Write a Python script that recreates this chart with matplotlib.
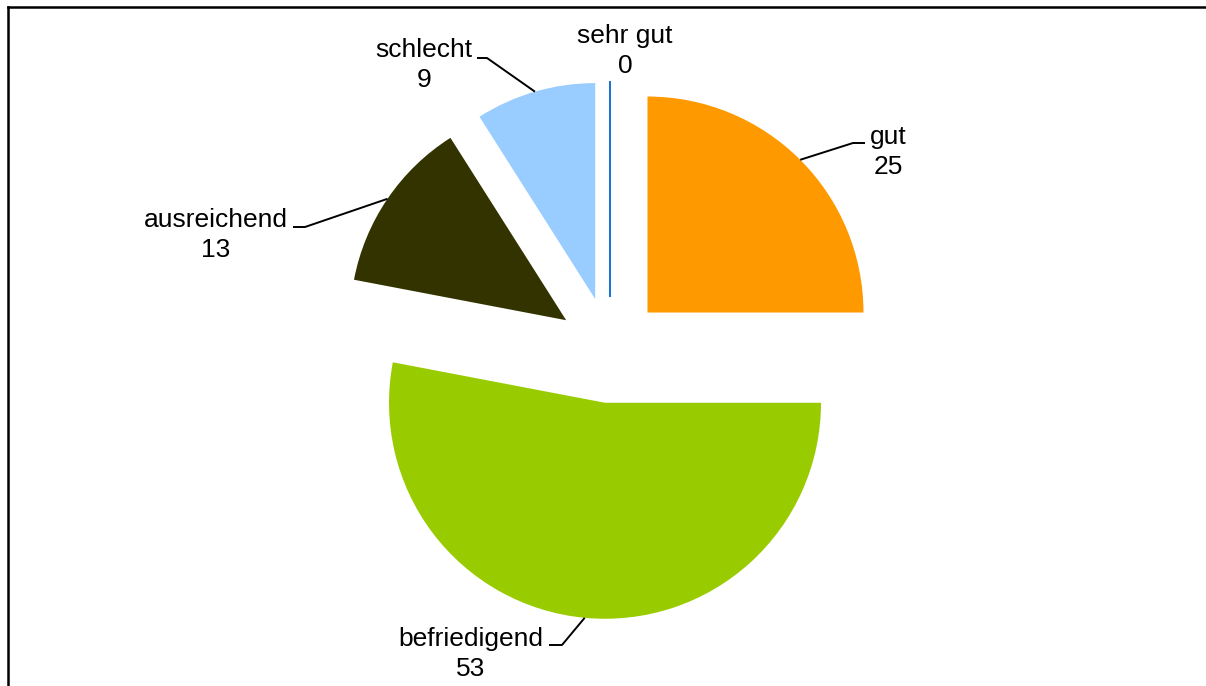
import math
import matplotlib
matplotlib.use("Agg")
import matplotlib.pyplot as plt
from matplotlib.lines import Line2D

# ---- data ----
categories = ["sehr gut", "gut", "befriedigend", "ausreichend", "schlecht"]
values = [0, 25, 53, 13, 9]
colors = ["#0066CC", "#FF9900", "#99CC00", "#333300", "#99CCFF"]

W, H = 1206, 686
fig = plt.figure(figsize=(W / 100, H / 100), dpi=100)
ax = fig.add_axes([0, 0, 1, 1])

def py(y):
    return H - y

center = (610, py(350))
radius = 216
explode = [53] * len(values)

wedges, _ = ax.pie(values, colors=colors, startangle=90, counterclock=False,
                   radius=radius, center=center, explode=explode,
                   wedgeprops=dict(linewidth=0))
# zero-value slice shown as a thin line
wedges[0].set_edgecolor(colors[0])
wedges[0].set_linewidth(1.3)

ax.set_xlim(0, W)
ax.set_ylim(0, H)
ax.set_aspect("auto")
ax.axis("off")

# label layout (pixel coords)
text_pos = {"sehr gut": (625, 51), "gut": (888, 152), "befriedigend": (471, 654),
            "ausreichend": (216, 235), "schlecht": (424, 65)}
leader = {"gut": ((853, 143), (865, 143)),
          "befriedigend": ((562, 645), (549, 645)),
          "ausreichend": ((305, 227), (293, 227)),
          "schlecht": ((487, 58), (477, 58))}

font = ["Liberation Sans", "DejaVu Sans"]
for w, cat, val in zip(wedges, categories, values):
    tx, ty = text_pos[cat]
    ax.text(tx, py(ty), f"{cat}\n{val}", ha="center", va="center",
            fontsize=19, family=font, color="black", linespacing=1.3)
    if cat in leader:
        tm = math.radians((w.theta1 + w.theta2) / 2)
        cx, cy = w.center
        ax_, ay_ = cx + w.r * math.cos(tm), cy + w.r * math.sin(tm)
        (ex, ey), (hx, hy) = leader[cat]
        ax.plot([ax_, ex, hx], [ay_, py(ey), py(hy)], color="black", lw=1.4,
                solid_capstyle="butt")

# chart frame (left and top edges visible)
fig.add_artist(Line2D([8 / W, 8 / W], [0, 1 - 7 / H], color="black", lw=1.8,
                      transform=fig.transFigure))
fig.add_artist(Line2D([8 / W, 1], [1 - 7 / H, 1 - 7 / H], color="black", lw=1.8,
                      transform=fig.transFigure))

fig.savefig("out.png", dpi=100, facecolor="white")
